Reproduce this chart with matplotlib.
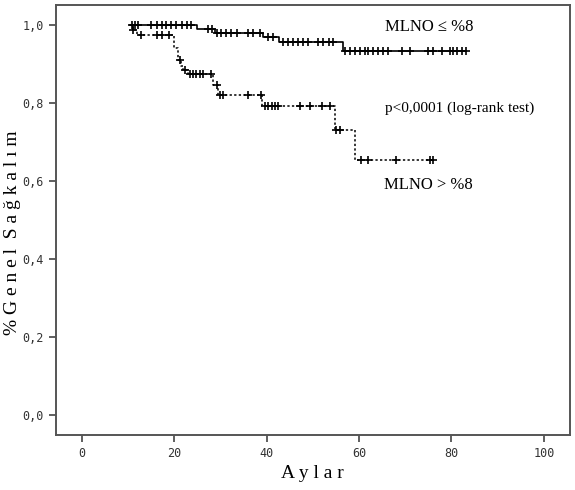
import matplotlib
matplotlib.use('Agg')
import matplotlib.pyplot as plt
import numpy as np

# step data (months, survival) for each group
low_times = [10.5, 24.9, 28.8, 39.3, 42.6, 56.5, 83.2]
low_surv = [1.0, 0.99, 0.98, 0.97, 0.956, 0.933, 0.933]
low_censor = [10.8, 11.5, 12.2, 15.1, 16.2, 17.3, 18.3, 19.4, 20.5, 21.6, 22.7, 23.7,
              27.3, 28.1, 29.2, 30.2, 31.3, 32.4, 33.5, 36.0, 37.1, 38.5, 40.3, 41.4,
              43.5, 44.6, 45.7, 46.8, 47.8, 49.0, 51.2, 52.3, 53.4, 54.4,
              57.0, 58.0, 59.1, 60.2, 61.3, 62.0, 63.1, 64.2, 65.2, 66.3,
              69.2, 71.0, 75.0, 76.1, 77.9, 79.7, 80.4, 81.1, 82.2, 83.2]

high_times = [10.5, 11.0, 12.0, 20.0, 20.8, 21.5, 22.0, 23.0, 28.4, 29.6, 39.0, 54.8, 59.1, 76.0]
high_surv = [1.0, 0.987, 0.974, 0.94, 0.91, 0.895, 0.885, 0.875, 0.846, 0.82, 0.792, 0.731, 0.654, 0.654]
high_censor = [11.2, 12.9, 16.2, 17.3, 19.0, 21.2, 22.3, 23.4, 24.1, 24.8, 25.5, 26.3, 28.0,
               29.2, 29.9, 30.6, 36.0, 38.9, 39.6, 40.3, 41.1, 41.8, 42.5,
               47.2, 49.4, 51.9, 53.7, 55.1, 55.8, 60.5, 62.0, 68.1, 75.3, 76.0]

yticks = [0.0, 0.2, 0.4, 0.6, 0.8, 1.0]
ytick_labels = ['0,0', '0,2', '0,4', '0,6', '0,8', '1,0']
xticks = [0, 20, 40, 60, 80, 100]


def surv_at(times, surv, t):
    idx = np.searchsorted(times, t, side='right') - 1
    return np.array(surv)[np.clip(idx, 0, len(surv) - 1)]


fig = plt.figure(figsize=(5.75, 4.9), dpi=100)
ax = fig.add_axes([0.097, 0.112, 0.894, 0.878])

ax.step(low_times, low_surv, where='post', color='black', linewidth=1.2)
ax.plot(low_censor, surv_at(low_times, low_surv, low_censor), linestyle='none',
        marker='+', color='black', markersize=6, markeredgewidth=1.2)

ax.step(high_times, high_surv, where='post', color='black', linewidth=1.1,
        linestyle=(0, (1.5, 1.5)))
ax.plot(high_censor, surv_at(high_times, high_surv, high_censor), linestyle='none',
        marker='+', color='black', markersize=6, markeredgewidth=1.2)

ax.set_xlim(-5.6, 105.6)
ax.set_ylim(-0.051, 1.051)
ax.set_xticks(xticks)
ax.set_xticklabels([str(x) for x in xticks], family='DejaVu Sans Mono', fontsize=8.5, color='#333333')
ax.set_yticks(yticks)
ax.set_yticklabels(ytick_labels, family='DejaVu Sans Mono', fontsize=8.5, color='#333333')
ax.tick_params(direction='out', length=5, width=1.2, color='#444444')
for s in ax.spines.values():
    s.set_color('#555555')
    s.set_linewidth(1.4)

ax.set_xlabel('A y l a r', family='Liberation Serif', fontsize=14, labelpad=4)
ax.set_ylabel('% G e n e l  S a ğ k a l ı m', family='Liberation Serif', fontsize=14)
ax.yaxis.set_label_coords(-0.068, 0.47)

ax.text(65.6, 0.975, 'MLNO ≤ %8', family='Liberation Serif', fontsize=12, va='bottom')
ax.text(65.6, 0.787, 'p<0,0001 (log-rank test)', family='Liberation Serif', fontsize=11, va='center')
ax.text(65.3, 0.59, 'MLNO > %8', family='Liberation Serif', fontsize=12, va='center')

fig.savefig('out.png', dpi=100)
